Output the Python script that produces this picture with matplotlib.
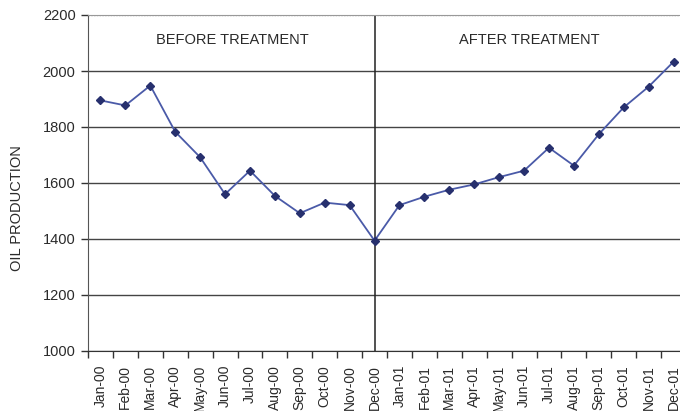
import matplotlib
matplotlib.use("Agg")
import matplotlib.pyplot as plt
from matplotlib.ticker import FixedLocator

plt.rcParams['font.family'] = ['Liberation Sans', 'DejaVu Sans']

months = ["Jan-00", "Feb-00", "Mar-00", "Apr-00", "May-00", "Jun-00",
          "Jul-00", "Aug-00", "Sep-00", "Oct-00", "Nov-00", "Dec-00",
          "Jan-01", "Feb-01", "Mar-01", "Apr-01", "May-01", "Jun-01",
          "Jul-01", "Aug-01", "Sep-01", "Oct-01", "Nov-01", "Dec-01"]
production = [1895, 1877, 1948, 1783, 1692, 1560, 1644, 1554, 1492, 1530, 1521, 1394,
              1521, 1551, 1576, 1595, 1621, 1644, 1726, 1662, 1774, 1870, 1944, 2033]
y_ticks = [1000, 1200, 1400, 1600, 1800, 2000, 2200]
treatment_month = "Dec-00"
before_label = "BEFORE TREATMENT"
after_label = "AFTER TREATMENT"
y_label = "OIL PRODUCTION"

text_color = "#2a2a2a"

fig = plt.figure(figsize=(6.8, 4.11), dpi=100)
ax = fig.add_axes([88/680, 1 - 351/411, 598/680, (351 - 15)/411])

x = list(range(len(months)))
ax.plot(x, production, color="#4a5aa8", lw=1.3, marker="D", markersize=4.5,
        markerfacecolor="#27306e", markeredgecolor="#27306e", zorder=3)

ax.set_xlim(-0.5, len(months) - 0.5)
ax.set_ylim(y_ticks[0], y_ticks[-1])
ax.set_yticks(y_ticks)
ax.set_yticklabels([str(v) for v in y_ticks], fontsize=10.5, color=text_color)

ax.set_xticks(x)
ax.set_xticklabels(months, rotation=90, fontsize=10, color=text_color)
ax.xaxis.set_minor_locator(FixedLocator([i - 0.5 for i in range(len(months) + 1)]))
ax.tick_params(axis="x", which="major", length=0, pad=10)
ax.tick_params(axis="x", which="minor", length=5, width=1, color="#333333", direction="out")
ax.tick_params(axis="y", length=5, width=1, color="#333333", direction="out", pad=4)

ax.grid(axis="y", color="#444444", lw=1)
for gl, v in zip(ax.yaxis.get_gridlines(), y_ticks):
    if v == y_ticks[-1]:
        gl.set_color("#999999")
        gl.set_linestyle((0, (1, 1)))

ax.spines["right"].set_visible(False)
ax.spines["top"].set_color("#999999")
ax.spines["top"].set_linestyle((0, (1, 1)))
ax.spines["left"].set_color("#555555")
ax.spines["bottom"].set_color("#333333")

tx = months.index(treatment_month)
ax.axvline(tx, color="#222222", lw=1.1, zorder=2)

ax.text(tx / 2 - 0.2, 2110, before_label, ha="center", va="center", fontsize=10.5, color=text_color)
ax.text((tx + len(months) - 1) / 2 + 0.2, 2110, after_label, ha="center", va="center", fontsize=10.5, color=text_color)

fig.text(17/680, 1 - 208/411, y_label, rotation=90, ha="center", va="center", fontsize=10.5, color=text_color)

fig.savefig("out.png", dpi=100)
